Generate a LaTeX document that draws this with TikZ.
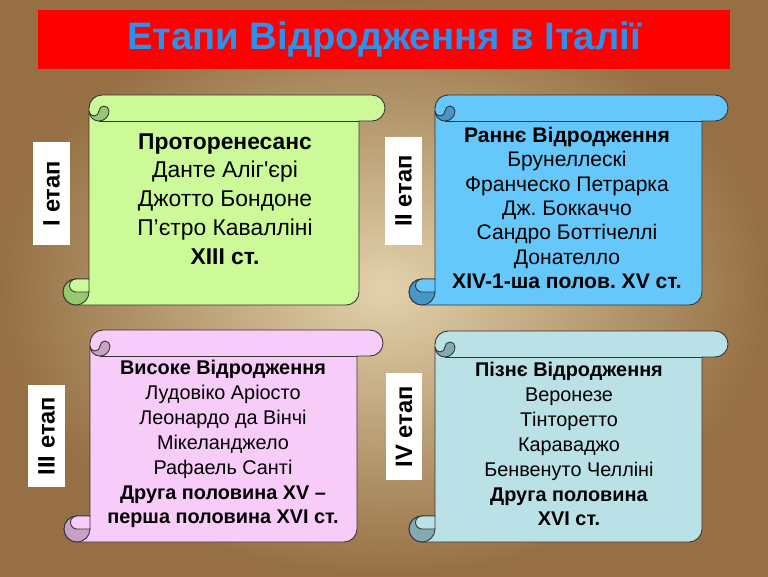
\documentclass[tikz,border=0pt]{standalone}
\usepackage{fontspec}
\setmainfont{Liberation Sans}
\frenchspacing
\definecolor{scrgreen}{RGB}{204,250,153}
\definecolor{scrgreendk}{RGB}{150,200,110}
\definecolor{scrblue}{RGB}{102,200,250}
\definecolor{scrbluedk}{RGB}{70,150,200}
\definecolor{scrpink}{RGB}{248,204,248}
\definecolor{scrpinkdk}{RGB}{200,160,200}
\definecolor{scrcyan}{RGB}{185,225,230}
\definecolor{scrcyandk}{RGB}{130,170,178}
\definecolor{titleblue}{RGB}{45,145,235}
\definecolor{paperlt}{RGB}{226,210,172}
\definecolor{paperdk}{RGB}{150,112,68}

\tikzset{
  scrollline/.style={draw=black!80, line width=0.5pt},
  scrolltext/.style={align=center, inner sep=0pt},
  stagebox/.style={fill=white, rotate=90, inner sep=0pt, minimum height=0.74cm,
    font=\fontsize{13.5}{16}\selectfont\bfseries},
  titlebox/.style={fill=red, text=titleblue, minimum width=13.84cm, minimum height=1.18cm,
    font=\fontsize{21.8}{24}\selectfont\bfseries}
}

% #1 left, #2 top, #3 right, #4 bottom (px), #5 fill, #6 curl colour
\newcommand{\scrollpic}[6]{%
  \draw[scrollline, fill=#5] ({#1+26},{-#2-13}) arc[start angle=180,end angle=90,radius=13]
    -- ({#3-13},{-#2}) arc[start angle=90,end angle=-90,radius=13]
    -- ({#3-26},{-#2-26}) -- ({#3-26},{-#4+13}) arc[start angle=0,end angle=-90,radius=13]
    -- ({#1+13},{-#4}) arc[start angle=270,end angle=90,radius=13]
    -- ({#1+26},{-#4+26}) -- cycle;
  \draw[scrollline] ({#1+36},{-#2-26}) -- ({#3-26},{-#2-26});
  \draw[scrollline, fill=#6] ({#1+26},{-#2-16}) arc[start angle=180,end angle=360,radius=10]
    arc[start angle=0,end angle=180,radius=5] arc[start angle=0,end angle=-180,radius=5] -- cycle;
  \draw[scrollline, fill=#6] ({#1+13},{-#4+13}) circle[radius=13];
  \draw[scrollline, fill=#5] ({#1+13},{-#4+26}) arc[start angle=90,end angle=270,radius=6.5]
    -- ({#1+26},{-#4+13}) -- ({#1+26},{-#4+26}) -- cycle;
}

\begin{document}
\begin{tikzpicture}[x=0.02cm,y=0.02cm]
  \useasboundingbox (0,0) rectangle (768,-576);
  \shade[inner color=paperlt, outer color=paperdk] (0,0) rectangle (768,-576);

  \node[titlebox] (title) at (384,-39.5) {Етапи Відродження в Італії};

  \scrollpic{63}{95}{385}{305}{scrgreen}{scrgreendk}
  \scrollpic{409}{95}{728}{305}{scrblue}{scrbluedk}
  \scrollpic{64}{330}{383}{542}{scrpink}{scrpinkdk}
  \scrollpic{409}{331}{728}{542}{scrcyan}{scrcyandk}

  \node[scrolltext, font=\fontsize{13}{16.4}\selectfont] (proto) at (225,-199)
    {\textbf{Проторенесанс}\\Данте Аліг\textquotesingle єрі\\Джотто Бондоне\\П’єтро Каваллінi\\\textbf{XIII ст.}};
  \node[scrolltext, font=\fontsize{12}{13.9}\selectfont] (early) at (567,-208)
    {\textbf{Раннє Відродження}\\Брунеллескі\\Франческо Петрарка\\Дж. Боккаччо\\Сандро Боттічеллі\\Донателло\\\textbf{XIV-1-ша полов. XV ст.}};
  \node[scrolltext, font=\fontsize{11.3}{14.2}\selectfont] (high) at (223,-444)
    {\textbf{Високе Відродження}\\Лудовіко Аріосто\\Леонардо да Вінчі\\Мікеланджело\\Рафаель Санті\\\textbf{Друга половина XV –}\\\textbf{перша половина XVI ст.}};
  \node[scrolltext, font=\fontsize{11.3}{14.2}\selectfont] (late) at (569,-444)
    {\textbf{Пізнє Відродження}\\Веронезе\\Тінторетто\\Караваджо\\Бенвенуто Челліні\\\textbf{Друга половина}\\\textbf{XVI ст.}};

  \node[stagebox, minimum width=2.06cm] (stage1) at (51.5,-193.5) {I етап};
  \node[stagebox, minimum width=2.16cm] (stage2) at (403.5,-191) {II етап};
  \node[stagebox, minimum width=2.04cm] (stage3) at (46.5,-436) {III етап};
  \node[stagebox, minimum width=2.14cm] (stage4) at (404,-426.5) {IV етап};
\end{tikzpicture}
\end{document}
